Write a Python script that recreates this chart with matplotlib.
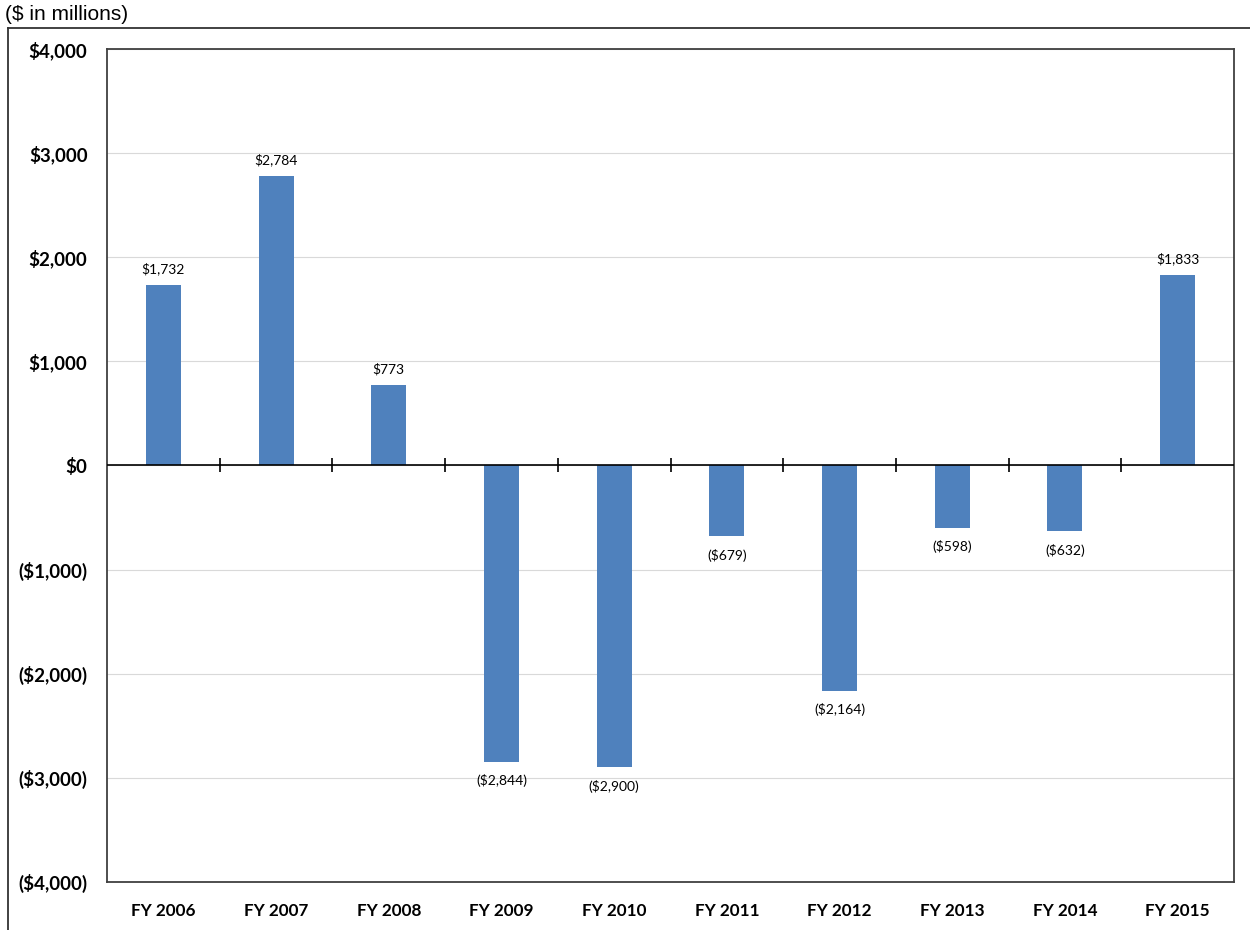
import matplotlib.pyplot as plt
import numpy as np
from matplotlib.lines import Line2D

# DATA ----------------------------------------------------------------------- #
years = ["FY 2006", "FY 2007", "FY 2008", "FY 2009", "FY 2010",
         "FY 2011", "FY 2012", "FY 2013", "FY 2014", "FY 2015"]
values = [1732, 2784, 773, -2844, -2900, -679, -2164, -598, -632, 1833]
y_ticks = [-4000, -3000, -2000, -1000, 0, 1000, 2000, 3000, 4000]

BAR_COLOR = "#4F81BD"
LABEL_FONT = ["Lato", "DejaVu Sans"]


def money(v: float) -> str:
    return f"${v:,.0f}" if v >= 0 else f"(${-v:,.0f})"


# PLOT ----------------------------------------------------------------------- #
fig = plt.figure(figsize=(12.5, 9.3), dpi=100)
ax = fig.add_axes([107 / 1250, 1 - 882 / 930, 1127 / 1250, 833 / 930])

x = np.arange(len(years))
ax.bar(x, values, width=0.31, color=BAR_COLOR, zorder=3)

for xi, v in zip(x, values):
    if v >= 0:
        ax.annotate(money(v), (xi, v), xytext=(0, 7), textcoords="offset points",
                    ha="center", va="bottom", fontsize=10, family=LABEL_FONT)
    else:
        ax.annotate(money(v), (xi, v), xytext=(0, -9), textcoords="offset points",
                    ha="center", va="top", fontsize=10, family=LABEL_FONT)

ax.set_xlim(-0.5, len(years) - 0.5)
ax.set_ylim(y_ticks[0], y_ticks[-1])
ax.set_yticks(y_ticks)
ax.set_yticklabels([money(v) for v in y_ticks], fontsize=13.5, fontweight="bold",
                   family=LABEL_FONT)
ax.set_xticks(x)
ax.set_xticklabels(years, fontsize=12.3, fontweight="bold", family=LABEL_FONT)
ax.tick_params(axis="both", length=0)
ax.tick_params(axis="x", pad=15)
ax.tick_params(axis="y", pad=14)

ax.grid(axis="y", color="#D9D9D9", linewidth=0.8, zorder=0)
ax.axhline(0, color="black", linewidth=1.2, zorder=4)
boundaries = x[:-1] + 0.5
ax.plot(boundaries, np.zeros_like(boundaries), ls="none", marker="|",
        markersize=10, markeredgewidth=1.2, color="black", zorder=4)

for spine in ax.spines.values():
    spine.set_color("#404040")
    spine.set_linewidth(1.3)

# outer frame and unit note
fig.add_artist(Line2D([8 / 1250, 1], [1 - 28 / 930, 1 - 28 / 930],
                      color="#333333", linewidth=1.3))
fig.add_artist(Line2D([8 / 1250, 8 / 1250], [0, 1 - 28 / 930],
                      color="#333333", linewidth=1.3))
fig.text(5 / 1250, 1 - 14 / 930, "($ in millions)", fontsize=15,
         family="Liberation Sans", va="center", ha="left")

fig.savefig("out.png", dpi=100, facecolor="white")
